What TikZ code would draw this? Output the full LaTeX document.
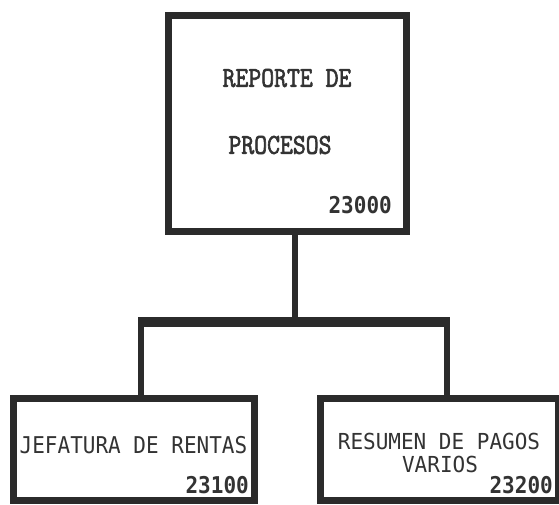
\documentclass[tikz,border=0pt]{standalone}
\usepackage{fontspec}
\newfontfamily\monoB{DejaVu Sans Mono}
\newfontfamily\monoC[FakeBold=2.5]{Latin Modern Mono}
\definecolor{ink}{HTML}{2B2B2B}
\definecolor{txt}{HTML}{333333}
\begin{document}
\begin{tikzpicture}[x=1pt,y=-1pt,
  box/.style={draw=ink,line width=7pt,fill=white,inner sep=0pt,outer sep=0pt},
  link/.style={draw=ink,line width=6pt},
  bar/.style={draw=ink,line width=10pt},
  toptxt/.style={text=txt,inner sep=0pt,font=\monoC\fontsize{25}{25}\selectfont},
  lowtxt/.style={text=txt,inner sep=0pt,font=\monoB\fontsize{21}{21}\selectfont},
  numtxt/.style={text=txt,inner sep=0pt,font=\monoB\bfseries\fontsize{21}{21}\selectfont}]
\useasboundingbox (0,0) rectangle (559,505);
\node[box,minimum width=238pt,minimum height=216pt] (top) at (287.5,123.5) {};
\node[box,minimum width=241pt,minimum height=102pt] (left) at (134,449) {};
\node[box,minimum width=238pt,minimum height=102pt] (right) at (439.5,449) {};
\coordinate (hub) at (295,321.5);
\coordinate (bl) at (141,321.5);
\coordinate (br) at (447,321.5);
\draw[link] (top.south -| hub) -- (hub);
\draw[bar] ([xshift=-3pt]bl) -- ([xshift=3pt]br);
\draw[link] (bl) -- (bl |- left.north);
\draw[link] (br) -- (br |- right.north);
\node[toptxt] (t1) at (287,78) {\scalebox{1}[1.15]{REPORTE DE}};
\node[toptxt] (t2) at (280,145) {\scalebox{1}[1.15]{PROCESOS}};
\node[numtxt,anchor=east] (t3) at (392,205) {\scalebox{1}[1.1]{23000}};
\node[lowtxt] (l1) at (133.5,445) {\scalebox{1}[1.1]{JEFATURA DE RENTAS}};
\node[numtxt,anchor=east] (l2) at (249,485) {\scalebox{1}[1.1]{23100}};
\node[lowtxt] (r1) at (439,441) {\scalebox{1}[1.05]{RESUMEN DE PAGOS}};
\node[lowtxt] (r2) at (440,464) {\scalebox{1}[1.05]{VARIOS}};
\node[numtxt,anchor=east] (r3) at (553,485) {\scalebox{1}[1.1]{23200}};
\end{tikzpicture}
\end{document}
